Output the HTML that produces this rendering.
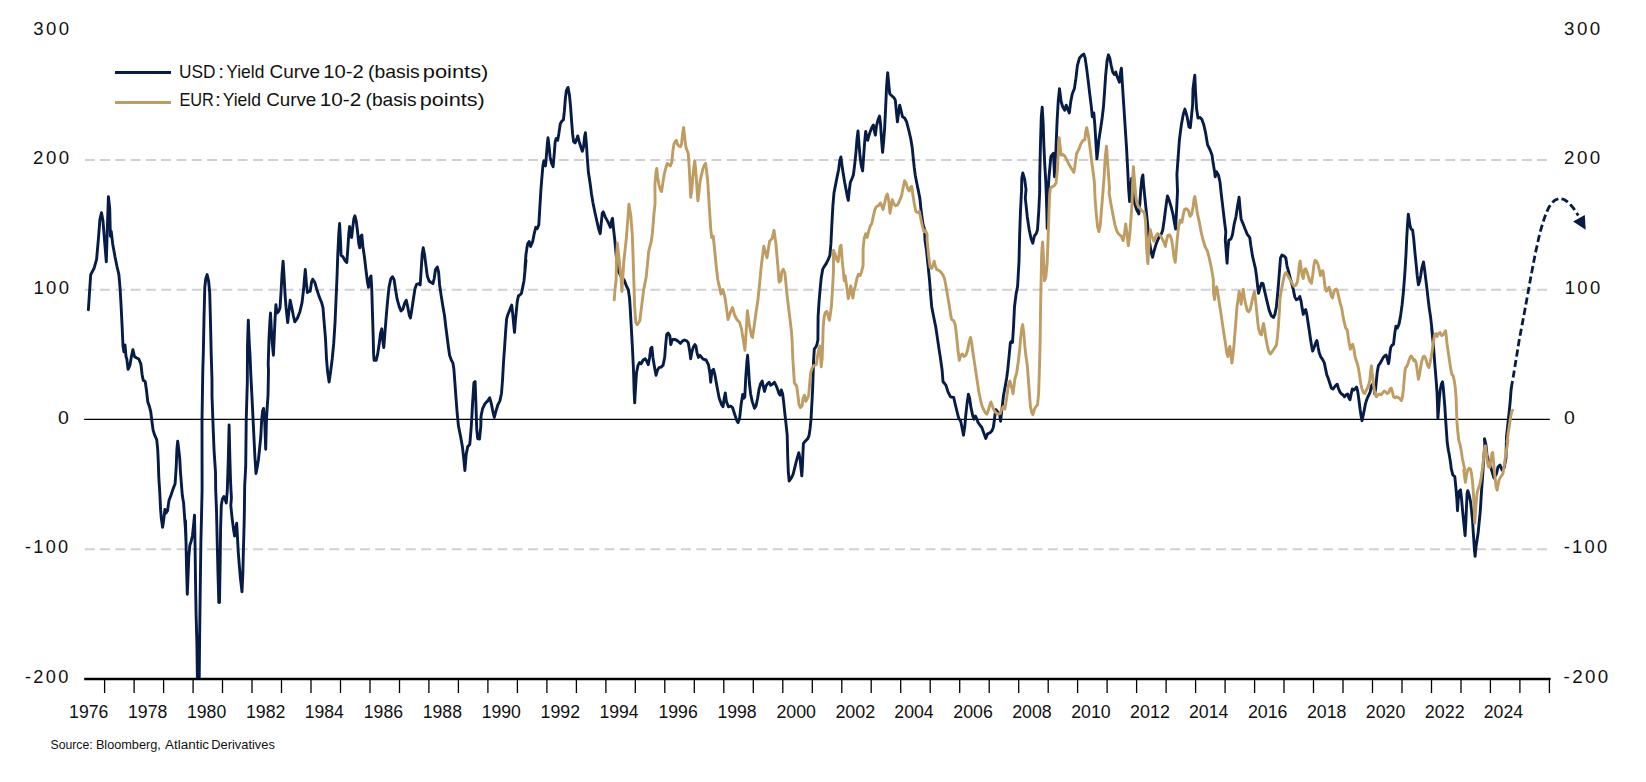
<!DOCTYPE html>
<html><head><meta charset="utf-8"><title>Yield Curve 10-2</title>
<style>
html,body{margin:0;padding:0;background:#fff;}
body{width:1646px;height:782px;overflow:hidden;font-family:"Liberation Sans",sans-serif;}
svg{display:block}
text{font-family:"Liberation Sans",sans-serif;fill:#111;}
</style></head><body>
<svg width="1646" height="782" viewBox="0 0 1646 782">
<rect width="1646" height="782" fill="#fff"/>
<g stroke="#d0d0d0" stroke-width="2.1" stroke-dasharray="9.9 5.387" fill="none"><line x1="84.8" y1="160.0" x2="1547.2" y2="160.0"/><line x1="84.8" y1="289.7" x2="1547.2" y2="289.7"/><line x1="84.8" y1="549.2" x2="1547.2" y2="549.2"/></g>
<line x1="84.2" y1="419.45" x2="1549.8" y2="419.45" stroke="#000" stroke-width="1.25"/>
<clipPath id="c"><rect x="80" y="20" width="1475" height="659.5"/></clipPath>
<g clip-path="url(#c)" fill="none" stroke-linejoin="round" stroke-linecap="round">
<path d="M88.4 309.7 L89.5 292.5 L90.7 274.6 L94.1 268.2 L96.6 259.3 L98.4 238.8 L99.9 219.6 L101.5 212.7 L103.0 220.9 L104.6 241.4 L106.3 261.8 L107.4 226.0 L108.4 196.6 L109.7 208.1 L110.4 236.3 L111.2 231.2 L112.7 243.9 L115.0 256.7 L117.1 267.0 L118.9 274.6 L120.2 290.0 L121.2 307.9 L122.2 328.3 L123.0 346.2 L124.0 351.9 L125.0 345.0 L126.0 356.5 L126.8 359.0 L128.1 369.3 L129.9 365.4 L131.4 356.5 L132.9 349.6 L134.5 356.5 L136.3 357.7 L138.8 359.0 L140.9 364.1 L142.1 374.4 L143.2 380.2 L145.2 381.5 L146.5 390.5 L147.8 402.0 L149.6 407.1 L150.8 412.2 L151.9 421.2 L153.1 430.1 L154.7 435.2 L156.7 439.6 L157.7 449.3 L158.3 462.1 L158.8 477.4 L159.8 492.8 L160.6 509.4 L161.3 518.3 L162.6 527.3 L163.9 518.3 L164.9 509.4 L165.9 513.2 L167.5 510.7 L169.0 500.4 L171.0 495.3 L173.1 488.9 L175.1 483.8 L176.2 467.2 L176.9 449.3 L177.7 441.1 L178.7 449.3 L179.7 458.2 L180.5 472.3 L181.3 482.5 L182.3 495.3 L183.6 503.0 L184.3 513.2 L185.4 528.6 L186.1 543.9 L185.5 520.7 L186.0 541.2 L186.5 566.7 L187.3 594.3 L188.1 574.4 L188.8 556.5 L189.9 545.0 L191.2 541.2 L192.4 536.0 L193.5 525.8 L194.5 515.1 L195.0 541.2 L195.5 579.5 L196.1 615.3 L196.9 643.5 L197.4 679.3 L197.8 694.6 L198.8 694.6 L199.2 679.3 L199.7 630.7 L200.2 592.3 L200.9 541.2 L201.4 520.7 L202.1 490.0 L202.0 421.2 L202.8 370.0 L203.3 353.9 L204.0 318.1 L204.8 287.4 L205.8 278.5 L207.1 274.6 L208.6 281.0 L209.7 292.5 L210.4 318.1 L211.2 353.9 L212.0 380.0 L212.0 395.6 L213.0 423.7 L214.0 449.3 L215.5 472.3 L215.7 490.0 L216.5 510.5 L217.2 541.2 L218.0 574.4 L218.8 602.5 L219.5 602.5 L220.1 566.7 L220.6 528.4 L221.3 505.3 L222.4 499.0 L223.9 496.4 L225.4 500.2 L226.3 503.0 L227.3 490.2 L228.3 459.5 L229.1 425.0 L229.9 459.5 L230.6 482.5 L231.4 497.9 L230.8 505.3 L232.1 518.1 L233.4 528.4 L234.6 536.0 L235.7 528.4 L236.7 523.2 L237.4 536.0 L238.2 551.4 L239.2 564.2 L240.3 577.0 L241.3 585.9 L242.0 591.8 L242.8 574.4 L243.3 553.9 L243.8 536.0 L244.3 516.9 L244.7 485.1 L245.7 467.2 L246.2 421.2 L247.3 382.8 L247.5 346.2 L248.3 320.2 L249.3 343.7 L250.1 356.5 L250.8 374.4 L251.9 395.6 L252.9 416.0 L253.9 436.5 L254.9 457.0 L256.0 473.6 L257.2 467.2 L258.5 459.5 L259.8 446.7 L260.8 436.5 L261.6 421.2 L262.6 410.9 L263.6 408.4 L264.7 421.2 L265.7 449.3 L266.4 421.2 L267.2 407.1 L268.0 395.6 L268.5 370.0 L268.2 364.1 L269.0 338.6 L269.8 323.2 L270.5 313.0 L271.3 328.3 L272.3 343.7 L273.4 355.2 L274.4 333.5 L275.1 318.1 L275.9 304.8 L276.9 313.0 L278.5 311.7 L280.0 307.9 L281.0 292.5 L282.0 274.6 L283.1 261.3 L284.1 277.2 L285.1 295.1 L286.1 307.9 L287.7 322.5 L289.0 310.4 L290.2 300.2 L291.8 307.9 L293.3 315.5 L294.8 321.9 L297.4 318.1 L299.9 311.7 L302.0 302.8 L303.5 290.0 L304.6 277.2 L305.3 269.5 L306.3 282.3 L307.4 292.5 L308.9 291.3 L310.2 291.3 L311.5 282.3 L312.7 279.2 L314.8 282.3 L316.6 288.7 L319.1 296.4 L321.7 302.8 L323.0 307.9 L324.2 323.2 L325.5 338.6 L326.5 359.0 L327.6 371.8 L329.1 382.0 L330.6 371.8 L332.2 359.0 L333.7 343.7 L335.0 323.2 L336.0 300.2 L337.0 277.2 L337.8 254.2 L338.8 233.7 L339.6 223.5 L340.4 238.8 L341.1 255.4 L342.9 256.7 L345.0 260.6 L346.8 262.4 L347.8 249.1 L348.8 233.7 L349.6 226.5 L350.6 235.0 L351.6 237.5 L352.6 228.6 L353.9 218.4 L354.9 215.8 L356.2 220.9 L357.5 231.2 L358.8 243.9 L359.8 247.8 L360.8 236.3 L361.8 235.0 L362.9 246.5 L364.4 256.7 L365.9 269.5 L367.5 282.3 L368.5 287.4 L369.8 278.5 L371.0 275.9 L371.8 290.0 L372.3 307.9 L373.1 333.5 L373.6 353.9 L374.1 360.3 L376.2 360.3 L377.7 353.9 L379.2 343.7 L380.5 333.5 L381.8 328.8 L382.8 341.1 L383.8 347.5 L384.9 333.5 L386.1 318.1 L387.4 302.8 L389.0 287.4 L390.7 279.2 L392.5 276.7 L394.1 279.7 L395.6 290.0 L397.1 298.9 L399.2 306.6 L401.0 310.9 L402.8 309.2 L404.8 302.8 L406.3 300.2 L407.9 307.9 L409.4 315.5 L410.4 318.1 L411.7 310.4 L413.2 300.2 L415.0 288.7 L416.6 284.3 L418.6 283.6 L420.2 284.9 L421.2 269.5 L422.2 254.2 L423.2 247.8 L424.5 254.2 L425.8 264.4 L427.3 275.9 L429.1 281.0 L430.9 282.3 L432.9 283.6 L434.2 278.5 L435.5 269.5 L437.3 267.0 L438.6 272.1 L439.6 284.9 L441.1 295.1 L442.7 305.3 L444.5 315.5 L445.7 325.8 L447.0 336.0 L448.3 346.2 L449.6 355.2 L451.4 360.3 L452.9 362.9 L453.9 369.3 L454.9 382.8 L456.0 398.1 L457.2 413.5 L458.5 426.3 L460.6 436.5 L462.4 446.7 L463.6 457.0 L464.9 470.5 L466.2 454.4 L467.7 446.7 L469.8 444.2 L471.3 426.3 L472.6 403.2 L473.9 382.8 L475.1 381.5 L475.9 403.2 L476.7 428.8 L477.7 438.5 L479.5 439.1 L480.8 426.3 L481.0 416.2 L482.6 408.6 L485.1 403.5 L487.7 400.9 L489.7 397.8 L491.3 403.5 L492.8 411.1 L494.3 417.5 L495.9 411.1 L497.9 404.7 L499.9 400.9 L501.5 393.2 L502.5 380.4 L503.5 362.5 L504.6 347.2 L505.6 331.8 L506.6 319.1 L507.6 315.2 L509.2 311.4 L510.7 307.5 L511.7 305.0 L512.7 313.9 L513.8 325.4 L514.5 332.4 L515.3 321.6 L516.3 311.4 L517.3 301.2 L518.4 296.0 L519.9 294.8 L521.4 293.5 L522.5 288.4 L524.0 280.7 L525.0 270.5 L526.0 260.2 L524.8 270.0 L526.0 254.1 L527.6 243.9 L529.1 241.4 L530.6 246.5 L532.7 241.4 L534.2 233.7 L535.8 227.3 L537.3 228.6 L538.8 224.7 L539.8 208.1 L540.9 190.2 L541.9 177.4 L542.9 165.9 L543.9 160.8 L545.5 165.9 L546.5 154.4 L547.3 144.2 L548.0 137.8 L549.1 146.7 L550.1 157.0 L551.6 163.4 L553.1 166.7 L554.2 154.4 L555.2 141.6 L556.2 138.5 L557.7 140.3 L558.8 133.9 L560.3 123.7 L561.8 121.2 L563.4 119.9 L564.4 110.9 L565.4 98.1 L566.4 90.5 L568.0 87.4 L569.5 95.6 L570.5 105.8 L571.6 121.2 L572.6 133.9 L573.6 141.6 L575.1 142.9 L576.7 139.1 L577.7 136.0 L579.2 141.6 L580.8 146.7 L582.3 151.3 L583.6 146.7 L584.6 136.5 L585.4 132.7 L586.4 144.2 L587.4 159.5 L588.4 172.3 L590.0 182.5 L591.5 194.0 L593.0 203.0 L595.1 213.2 L597.1 222.2 L598.9 229.8 L600.2 233.7 L601.2 223.5 L602.3 213.2 L603.3 211.9 L605.3 217.1 L607.4 220.9 L609.2 224.7 L610.4 227.3 L611.5 220.9 L612.5 218.3 L613.5 228.6 L614.8 240.1 L616.1 254.1 L617.6 269.9 L620.7 275.6 L624.5 280.7 L626.3 285.8 L628.3 289.6 L629.6 298.6 L630.4 311.4 L631.4 329.3 L632.4 347.2 L633.5 370.2 L634.2 393.2 L634.7 402.9 L635.5 388.1 L636.5 372.8 L638.1 365.1 L639.6 362.5 L641.1 363.8 L643.2 360.0 L645.2 358.7 L646.8 361.3 L648.3 364.6 L649.6 357.4 L650.8 348.5 L651.9 347.2 L652.9 357.4 L654.4 366.4 L656.0 375.3 L657.5 370.2 L659.0 367.6 L661.1 367.1 L663.1 365.1 L664.7 357.4 L665.7 344.6 L666.7 334.4 L668.2 333.1 L669.8 335.7 L670.8 344.6 L672.3 339.5 L674.4 339.5 L676.4 340.0 L678.5 341.6 L680.5 343.4 L682.6 340.8 L684.6 340.0 L686.6 340.8 L688.2 342.6 L689.7 351.0 L690.7 358.7 L691.8 352.3 L693.3 347.2 L694.8 344.6 L695.9 345.9 L696.9 352.3 L698.4 357.4 L700.0 355.3 L703.1 359.2 L706.1 360.0 L708.4 364.6 L710.0 373.8 L710.7 382.2 L712.0 370.7 L713.5 369.2 L715.0 375.3 L716.9 386.0 L719.2 398.3 L721.5 404.5 L723.0 406.8 L724.2 398.3 L725.3 392.9 L726.4 401.4 L728.4 406.8 L730.7 406.0 L732.5 407.5 L734.5 413.7 L736.8 420.6 L738.1 422.6 L739.6 418.3 L741.1 404.5 L742.7 394.5 L743.7 398.3 L744.8 396.8 L745.7 378.4 L746.8 363.0 L747.6 355.3 L748.5 367.6 L749.4 383.0 L750.6 393.7 L752.2 401.4 L754.5 408.3 L756.0 406.0 L757.6 398.3 L759.1 389.1 L760.6 383.7 L762.2 381.1 L763.2 386.0 L764.5 391.4 L766.0 386.0 L767.5 383.7 L769.1 382.2 L770.6 385.3 L772.1 384.5 L774.4 382.2 L776.0 385.3 L777.5 389.1 L779.0 393.7 L780.1 395.2 L781.3 389.9 L782.6 393.7 L783.6 401.4 L784.7 412.1 L785.9 422.9 L787.2 435.2 L787.7 456.5 L788.3 471.8 L789.2 481.0 L791.2 478.2 L793.1 474.4 L795.0 466.7 L796.9 459.1 L798.8 452.7 L800.1 459.1 L801.1 469.3 L801.8 475.9 L802.4 466.7 L802.9 453.9 L803.4 443.7 L805.2 441.2 L807.8 438.6 L809.1 435.4 L810.1 428.4 L811.0 419.4 L811.9 402.8 L812.6 390.0 L813.0 378.4 L813.6 360.0 L814.3 349.2 L815.9 346.9 L816.9 344.6 L817.9 340.0 L818.1 316.5 L819.1 301.2 L820.2 288.4 L821.2 278.1 L822.7 269.2 L824.2 266.6 L826.5 263.1 L828.3 259.3 L829.9 255.4 L830.9 243.9 L831.9 223.5 L832.9 205.5 L834.0 192.8 L835.5 185.1 L837.0 177.4 L838.6 169.7 L839.8 160.8 L840.9 157.0 L841.9 164.6 L843.2 173.6 L844.7 182.5 L846.2 190.2 L847.3 196.6 L848.3 200.4 L849.3 190.2 L850.3 182.5 L851.9 178.7 L853.4 174.9 L854.7 164.6 L856.0 151.8 L857.0 139.1 L858.0 130.9 L859.0 144.2 L860.1 157.0 L861.1 164.6 L862.6 171.0 L863.6 157.0 L864.7 141.6 L865.7 131.4 L866.7 136.5 L867.7 140.3 L868.7 136.5 L870.3 131.4 L871.8 127.5 L873.4 125.0 L874.4 131.4 L875.4 135.2 L876.4 126.3 L878.0 119.9 L879.5 116.0 L880.5 123.7 L881.5 139.1 L882.6 152.4 L883.6 141.6 L884.6 128.8 L885.6 108.4 L886.6 86.0 L887.7 72.7 L888.7 83.5 L889.7 93.7 L891.8 95.8 L893.8 97.5 L895.3 100.1 L896.4 111.6 L897.4 121.8 L898.4 114.2 L899.7 105.2 L901.0 110.3 L902.5 116.7 L904.6 118.0 L906.6 121.8 L908.6 129.5 L910.7 138.5 L912.2 147.4 L913.2 157.6 L914.3 167.9 L915.3 175.5 L916.8 183.2 L918.4 190.9 L919.9 198.6 L920.9 208.8 L921.9 216.5 L923.0 224.1 L924.5 229.3 L925.0 240.2 L926.5 250.5 L928.1 265.8 L929.6 281.2 L930.6 293.9 L931.7 306.7 L933.7 317.0 L935.8 327.2 L937.3 337.4 L938.8 347.6 L940.4 357.9 L942.1 370.0 L943.0 381.5 L946.0 385.3 L947.9 391.7 L950.5 396.9 L953.7 397.5 L955.6 405.8 L957.5 413.5 L958.8 418.6 L960.7 421.2 L962.0 427.5 L963.5 435.2 L964.8 426.3 L965.8 414.8 L967.1 403.2 L968.4 394.3 L969.6 398.1 L970.9 407.1 L972.8 416.0 L974.1 419.2 L975.4 416.0 L976.7 418.6 L978.0 422.4 L979.9 425.0 L981.8 427.5 L983.7 432.7 L985.8 438.4 L987.5 433.9 L990.1 432.7 L992.0 430.7 L993.3 427.5 L994.2 421.2 L995.0 414.8 L995.9 409.6 L997.8 412.2 L999.7 414.8 L1000.6 421.2 L1001.4 413.5 L1002.3 405.8 L1003.5 395.6 L1005.4 385.3 L1006.7 377.7 L1007.7 370.0 L1009.4 352.8 L1010.4 342.5 L1011.5 341.3 L1012.5 342.5 L1013.5 327.2 L1014.5 306.7 L1016.1 293.9 L1017.6 286.3 L1019.0 261.7 L1019.6 236.2 L1020.5 210.6 L1021.5 191.4 L1021.8 178.1 L1022.8 173.0 L1024.7 179.4 L1026.0 189.6 L1025.3 197.8 L1027.3 217.0 L1029.2 229.8 L1031.1 238.7 L1032.8 243.2 L1034.3 236.2 L1036.2 233.6 L1037.5 229.8 L1038.8 210.6 L1039.7 191.4 L1039.7 178.1 L1040.4 146.2 L1041.3 116.7 L1042.2 107.1 L1043.2 124.4 L1043.9 146.2 L1044.8 165.3 L1045.8 182.0 L1046.3 195.2 L1046.8 210.6 L1047.2 228.5 L1047.6 210.6 L1048.1 191.4 L1049.0 176.8 L1050.9 156.4 L1053.5 153.2 L1054.5 176.8 L1055.8 152.5 L1057.1 120.6 L1058.3 100.1 L1059.5 88.6 L1061.1 101.4 L1062.6 106.5 L1064.7 110.3 L1066.2 105.2 L1067.7 109.1 L1069.3 112.9 L1070.8 101.4 L1072.3 93.7 L1074.4 88.6 L1075.9 78.4 L1077.4 65.6 L1079.5 57.9 L1082.0 55.3 L1083.8 54.1 L1085.1 57.9 L1086.6 68.1 L1088.2 80.9 L1089.7 93.7 L1091.3 106.5 L1092.3 116.7 L1093.8 112.9 L1094.8 124.4 L1095.9 142.3 L1096.9 158.9 L1097.9 150.0 L1098.9 139.7 L1100.5 129.5 L1102.0 119.3 L1103.5 106.5 L1104.6 91.2 L1105.6 75.8 L1107.1 60.5 L1108.4 54.8 L1109.7 57.9 L1111.2 65.6 L1112.7 72.0 L1114.3 74.5 L1115.8 72.0 L1116.8 75.8 L1118.4 79.6 L1119.4 82.2 L1120.4 73.2 L1121.4 68.1 L1122.5 86.0 L1123.5 101.4 L1124.5 116.7 L1125.5 132.1 L1126.5 147.4 L1127.6 167.9 L1128.6 188.3 L1129.6 201.6 L1130.6 188.3 L1131.7 178.1 L1133.2 193.5 L1134.7 203.7 L1136.8 210.1 L1138.8 213.9 L1139.8 203.7 L1140.9 188.3 L1141.9 178.1 L1142.9 175.0 L1143.6 185.0 L1144.9 197.8 L1146.2 210.6 L1147.5 223.4 L1148.7 236.2 L1150.0 245.1 L1151.3 252.8 L1152.6 257.3 L1153.9 251.5 L1155.8 245.1 L1157.7 240.0 L1159.6 236.2 L1161.5 233.6 L1162.8 229.8 L1164.1 220.8 L1165.4 210.6 L1166.6 201.6 L1167.5 195.9 L1169.2 200.3 L1171.1 206.7 L1173.0 214.4 L1174.3 222.1 L1175.6 229.1 L1176.2 217.0 L1176.9 204.2 L1177.5 191.4 L1176.9 174.3 L1178.2 156.4 L1179.4 139.8 L1181.4 124.4 L1183.3 114.2 L1184.9 109.1 L1187.1 116.7 L1189.0 127.0 L1190.3 127.6 L1191.3 118.0 L1192.6 105.2 L1193.0 88.6 L1194.0 80.9 L1194.8 75.3 L1195.5 91.2 L1196.6 109.1 L1198.0 118.0 L1199.9 117.4 L1201.8 119.3 L1203.7 124.4 L1205.7 133.4 L1207.6 144.9 L1210.1 150.0 L1212.0 155.1 L1213.3 164.1 L1214.6 171.7 L1215.2 176.8 L1216.5 171.7 L1218.4 174.9 L1220.0 182.0 L1221.2 193.5 L1222.7 206.2 L1224.2 219.0 L1225.8 231.8 L1225.3 240.2 L1226.3 253.0 L1227.1 263.2 L1227.8 250.5 L1228.8 240.2 L1230.9 239.0 L1232.4 235.1 L1234.2 224.1 L1236.0 216.5 L1237.5 206.2 L1239.1 197.3 L1240.1 208.8 L1241.1 219.0 L1243.2 224.1 L1245.2 229.3 L1247.3 234.4 L1249.3 236.9 L1249.8 237.7 L1250.8 245.3 L1252.4 255.6 L1253.9 262.0 L1255.4 268.4 L1256.5 276.0 L1257.5 285.0 L1258.5 293.4 L1260.1 287.5 L1261.6 283.2 L1263.1 283.7 L1264.7 291.4 L1266.2 297.8 L1267.7 304.2 L1269.3 310.6 L1271.3 315.7 L1273.4 317.5 L1274.9 314.4 L1276.4 306.7 L1277.4 296.5 L1278.5 283.7 L1279.5 270.9 L1280.5 258.1 L1281.9 255.1 L1284.3 256.1 L1285.8 258.0 L1287.0 265.8 L1288.6 271.6 L1290.1 277.5 L1291.7 283.3 L1293.2 289.1 L1294.8 296.9 L1296.3 299.8 L1298.3 298.9 L1299.8 296.5 L1301.0 300.8 L1302.2 308.6 L1303.3 314.4 L1304.5 310.5 L1305.7 309.6 L1306.8 314.4 L1308.0 322.2 L1309.2 330.0 L1310.3 337.7 L1311.5 345.3 L1312.7 351.1 L1314.2 347.2 L1315.8 342.4 L1316.9 340.4 L1318.1 347.2 L1319.3 353.0 L1320.8 356.9 L1322.8 359.9 L1324.3 362.8 L1325.5 368.6 L1326.7 374.4 L1328.2 378.3 L1329.8 383.2 L1331.3 388.0 L1332.9 389.0 L1334.4 387.1 L1336.0 385.1 L1337.2 384.2 L1338.3 388.0 L1339.9 391.9 L1341.4 393.9 L1343.0 394.8 L1344.5 396.8 L1346.1 394.8 L1347.7 393.9 L1348.8 397.8 L1350.0 399.7 L1351.2 393.9 L1352.3 389.0 L1353.9 390.0 L1355.4 388.4 L1356.6 387.1 L1357.8 391.9 L1358.9 399.7 L1360.1 409.4 L1361.3 417.2 L1362.0 420.7 L1363.2 415.3 L1364.4 409.4 L1365.5 403.6 L1366.7 399.7 L1367.9 396.8 L1369.0 394.8 L1370.2 391.9 L1371.4 386.1 L1372.5 384.2 L1373.7 387.1 L1374.7 393.9 L1375.6 389.0 L1376.4 380.3 L1377.2 372.5 L1378.4 365.7 L1379.9 363.7 L1381.5 360.8 L1383.0 357.9 L1384.6 356.0 L1386.1 355.0 L1387.3 358.9 L1388.5 363.7 L1389.3 358.9 L1390.0 352.1 L1390.8 347.2 L1392.0 345.3 L1393.5 344.3 L1394.7 333.9 L1395.9 326.1 L1397.4 328.0 L1399.0 324.1 L1400.5 316.4 L1402.1 304.7 L1403.3 293.0 L1404.4 279.4 L1405.2 267.8 L1406.0 254.2 L1406.7 238.6 L1407.5 225.0 L1408.3 214.3 L1409.1 219.2 L1409.9 225.0 L1411.0 228.9 L1412.6 229.9 L1413.7 238.6 L1414.9 252.2 L1416.1 263.9 L1417.2 275.5 L1418.4 284.9 L1419.6 281.4 L1420.7 275.5 L1421.9 267.8 L1423.5 261.9 L1424.6 269.7 L1425.8 279.4 L1427.0 289.1 L1428.1 298.9 L1429.3 308.6 L1430.5 316.4 L1431.6 326.1 L1432.8 337.7 L1431.6 327.8 L1432.4 335.6 L1433.2 343.3 L1434.0 353.0 L1434.7 362.8 L1435.5 372.5 L1436.3 382.2 L1437.1 393.9 L1437.5 405.5 L1437.9 418.2 L1438.6 409.4 L1439.4 397.8 L1440.2 390.0 L1441.4 384.2 L1442.5 381.8 L1443.3 388.0 L1444.1 397.8 L1444.9 407.5 L1445.6 419.1 L1446.4 430.8 L1447.2 442.5 L1448.4 450.2 L1449.5 456.1 L1450.7 463.9 L1451.2 468.3 L1452.8 474.9 L1454.8 476.6 L1455.8 486.6 L1456.8 498.2 L1457.5 510.7 L1458.2 499.9 L1459.1 491.5 L1460.5 489.9 L1461.5 498.2 L1462.5 509.8 L1463.5 519.8 L1464.5 529.8 L1465.1 535.6 L1465.8 523.1 L1466.5 506.5 L1467.1 493.2 L1467.8 490.7 L1469.1 494.9 L1470.5 501.5 L1471.5 509.8 L1472.5 519.8 L1473.1 529.8 L1473.8 539.8 L1474.4 549.7 L1475.1 556.4 L1476.1 546.4 L1477.1 539.8 L1478.1 533.1 L1479.1 523.1 L1480.1 513.2 L1480.8 503.2 L1481.4 493.2 L1482.1 483.2 L1482.8 473.3 L1483.4 463.3 L1484.1 453.3 L1484.8 445.0 L1484.5 438.6 L1485.8 444.0 L1487.0 455.0 L1489.0 463.0 L1491.0 468.0 L1494.0 478.0 L1496.4 474.0 L1498.0 467.0 L1500.0 465.0 L1502.0 470.0 L1504.0 468.0 L1506.0 458.0 L1506.5 436.6 L1507.8 425.0 L1509.0 413.3 L1510.2 401.6 L1510.9 391.9 L1511.3 388.0" stroke="#061c46" stroke-width="2.9"/>
<path d="M614.2 299.8 L615.2 287.7 L616.1 280.0 L616.5 256.5 L617.4 243.1 L619.3 261.6 L621.2 279.5 L621.9 291.5 L623.8 261.6 L626.3 238.6 L627.6 222.0 L628.9 204.1 L630.8 215.6 L632.3 234.8 L633.4 266.7 L634.0 286.4 L634.6 305.6 L635.7 322.2 L637.2 324.8 L639.8 320.9 L641.7 305.6 L643.6 290.2 L646.2 277.0 L648.7 251.4 L651.3 241.2 L652.5 232.2 L653.8 215.6 L655.1 202.8 L654.9 185.1 L656.0 172.3 L656.7 168.5 L657.7 177.4 L659.0 185.1 L660.6 190.2 L661.6 191.5 L662.9 182.5 L664.1 174.9 L665.7 168.5 L667.2 163.4 L668.7 164.6 L670.3 165.9 L671.8 162.1 L672.8 151.8 L673.9 144.2 L675.1 141.6 L676.4 140.3 L677.4 144.2 L679.0 146.2 L680.5 146.7 L681.5 144.2 L682.6 133.9 L683.6 127.5 L684.6 136.5 L685.6 145.4 L686.6 149.3 L688.2 153.1 L689.2 167.2 L690.0 182.5 L690.7 197.4 L691.8 190.2 L692.8 177.4 L693.8 167.2 L694.8 160.8 L695.9 172.3 L696.9 187.6 L697.9 200.9 L698.9 192.8 L699.9 182.5 L701.5 174.9 L703.0 168.5 L704.6 164.6 L705.6 163.4 L706.6 171.0 L707.6 180.0 L708.6 195.3 L709.7 213.2 L710.7 228.6 L711.7 237.5 L713.2 236.2 L714.3 246.5 L715.3 256.7 L716.3 266.9 L717.8 280.0 L719.7 287.7 L721.0 294.1 L722.9 289.6 L724.8 296.6 L726.7 309.4 L728.0 319.6 L730.5 312.0 L732.5 307.5 L734.4 314.5 L736.9 319.6 L739.5 322.2 L741.4 328.6 L743.3 340.1 L744.9 350.3 L746.2 331.2 L747.4 310.7 L749.1 323.5 L751.6 336.3 L752.5 337.5 L754.2 326.0 L756.1 312.0 L758.0 299.2 L760.0 280.0 L761.2 266.7 L763.8 246.3 L767.0 257.8 L769.6 241.2 L772.1 238.6 L774.0 230.3 L775.9 243.7 L777.9 266.7 L779.1 282.1 L780.8 280.7 L781.8 271.7 L783.3 269.2 L784.9 273.0 L785.9 283.2 L786.9 293.5 L788.4 306.3 L790.0 319.1 L791.5 331.8 L792.1 340.0 L792.8 358.4 L793.6 370.7 L794.4 383.0 L796.7 386.0 L797.9 395.2 L799.0 404.5 L800.5 407.5 L802.1 406.0 L803.1 398.3 L804.4 395.2 L805.9 401.4 L807.4 398.3 L808.7 395.2 L809.7 383.0 L810.8 372.2 L812.3 367.6 L814.3 365.3 L816.3 364.6 L817.4 356.9 L818.9 349.2 L820.0 346.1 L821.2 366.9 L822.2 358.4 L822.8 340.0 L823.2 326.7 L824.2 316.5 L825.3 312.7 L826.8 311.4 L828.3 316.5 L829.4 320.3 L830.4 313.9 L831.4 306.3 L832.4 290.9 L833.5 270.5 L833.5 250.3 L835.0 254.1 L836.5 259.3 L838.1 261.8 L839.1 254.1 L840.1 246.5 L841.1 245.2 L842.1 259.3 L843.2 269.9 L844.2 280.7 L845.2 275.6 L846.2 283.2 L847.3 290.9 L848.3 298.6 L849.8 290.9 L850.8 285.8 L851.9 293.5 L852.9 298.1 L853.9 290.9 L855.4 285.8 L857.0 278.1 L858.5 274.3 L860.1 275.6 L861.6 271.7 L863.1 265.3 L863.1 249.0 L864.1 238.8 L865.7 233.7 L867.2 237.5 L868.7 231.1 L870.3 226.0 L871.8 223.5 L873.4 215.8 L874.9 209.4 L876.4 206.8 L878.5 205.5 L880.5 203.0 L882.0 206.8 L883.1 209.4 L884.6 203.0 L886.1 196.6 L887.4 194.0 L888.7 200.4 L890.0 213.2 L891.3 206.2 L892.3 199.8 L893.8 203.7 L895.3 205.7 L897.4 205.0 L899.4 201.1 L901.5 196.0 L903.0 188.3 L904.6 180.7 L906.1 183.2 L907.6 188.3 L909.2 190.9 L910.7 187.1 L911.7 186.3 L912.7 193.5 L914.3 203.7 L915.8 211.4 L917.9 212.6 L919.4 211.4 L920.9 219.0 L922.5 226.7 L924.0 231.8 L925.5 230.5 L927.1 234.4 L927.1 240.2 L928.6 255.6 L930.1 267.1 L931.7 268.4 L933.2 264.5 L934.2 261.2 L935.2 265.8 L936.8 269.6 L938.8 270.4 L940.9 272.2 L942.9 274.8 L944.5 278.6 L946.0 286.3 L947.5 295.2 L949.1 304.2 L950.6 314.4 L951.6 319.5 L953.7 320.8 L955.2 324.6 L956.2 332.3 L957.2 342.5 L958.3 352.8 L959.3 360.4 L960.8 355.3 L962.4 354.0 L963.9 356.6 L965.9 355.3 L967.5 350.2 L969.0 342.5 L970.5 337.4 L971.6 342.5 L972.6 350.2 L974.1 360.4 L975.7 370.7 L977.2 380.9 L978.7 391.1 L980.3 398.8 L981.8 405.2 L983.3 409.0 L985.4 412.9 L986.9 414.1 L988.4 410.3 L990.0 403.9 L991.0 401.9 L992.5 406.5 L994.1 410.3 L996.1 412.9 L998.2 414.1 L1000.2 413.6 L1001.7 409.0 L1003.3 406.5 L1004.8 409.0 L1005.8 403.9 L1006.9 396.2 L1007.9 388.6 L1008.9 383.5 L1009.9 380.9 L1010.9 384.7 L1012.0 388.6 L1013.0 393.7 L1014.0 386.0 L1015.0 378.3 L1016.6 373.2 L1018.1 363.0 L1019.6 350.2 L1020.7 337.4 L1021.7 328.5 L1022.7 324.6 L1023.7 332.3 L1024.8 345.1 L1025.8 355.3 L1027.3 365.5 L1028.3 378.3 L1029.4 393.7 L1030.4 406.5 L1031.9 412.9 L1032.9 414.7 L1034.5 409.0 L1036.0 406.5 L1037.5 405.2 L1038.6 393.7 L1039.3 373.2 L1040.1 342.5 L1040.6 306.7 L1041.1 281.2 L1041.6 255.6 L1042.0 248.9 L1042.6 241.9 L1043.2 251.5 L1043.9 266.8 L1044.5 280.9 L1045.8 277.1 L1047.1 264.3 L1047.7 248.9 L1048.4 229.8 L1049.0 210.6 L1049.6 195.2 L1050.3 188.8 L1051.6 187.1 L1054.1 185.8 L1056.0 183.2 L1057.3 171.7 L1058.3 152.5 L1059.2 137.8 L1060.1 146.2 L1061.2 155.1 L1063.1 154.5 L1065.0 156.4 L1066.9 160.2 L1068.8 164.1 L1071.4 168.5 L1073.9 172.4 L1075.2 164.1 L1076.5 153.8 L1079.1 148.7 L1081.0 143.6 L1082.9 140.4 L1084.8 139.8 L1085.7 132.1 L1086.7 127.6 L1088.0 133.4 L1089.3 142.3 L1090.6 152.5 L1091.8 162.8 L1093.1 171.7 L1094.4 182.0 L1095.0 197.8 L1096.3 214.4 L1097.6 227.2 L1098.9 231.7 L1100.2 225.9 L1101.4 210.6 L1102.7 195.2 L1104.0 178.1 L1105.3 156.4 L1106.5 146.2 L1107.4 158.9 L1108.5 174.3 L1109.5 188.4 L1109.1 192.7 L1111.0 204.2 L1112.9 214.4 L1114.9 224.6 L1116.8 231.0 L1118.7 234.2 L1121.3 236.2 L1123.2 240.6 L1124.5 233.6 L1125.7 224.0 L1127.0 233.6 L1128.3 245.7 L1129.6 236.2 L1130.8 220.8 L1132.1 201.6 L1132.8 178.1 L1133.4 166.6 L1134.3 178.1 L1136.0 197.8 L1137.2 204.2 L1139.2 207.4 L1141.7 210.6 L1144.3 212.5 L1145.5 220.8 L1146.2 236.2 L1146.8 251.5 L1147.9 263.6 L1148.7 248.9 L1149.6 236.2 L1150.4 229.8 L1151.9 236.2 L1153.9 241.3 L1155.8 236.2 L1157.7 233.6 L1159.6 234.9 L1161.5 237.4 L1163.5 241.3 L1165.4 246.4 L1166.6 240.0 L1167.9 235.5 L1169.8 234.9 L1171.4 238.7 L1172.7 246.4 L1173.9 256.6 L1175.2 262.4 L1176.2 251.5 L1177.3 238.7 L1178.5 227.2 L1180.1 220.2 L1182.0 222.1 L1183.3 214.4 L1184.6 209.3 L1186.5 208.7 L1188.4 210.6 L1190.1 216.3 L1191.6 214.4 L1193.1 206.7 L1194.1 198.4 L1194.8 196.5 L1196.1 204.2 L1197.3 213.1 L1199.3 222.1 L1201.2 232.3 L1203.1 240.0 L1205.0 246.4 L1207.6 251.5 L1209.5 259.2 L1211.4 268.1 L1213.3 279.6 L1213.5 292.7 L1214.5 299.6 L1215.5 291.4 L1216.6 286.8 L1217.6 291.4 L1219.1 301.6 L1220.7 311.8 L1222.2 322.1 L1223.7 332.3 L1225.3 342.5 L1226.8 352.8 L1227.8 356.6 L1228.8 350.2 L1229.9 346.4 L1230.9 355.3 L1231.9 363.0 L1232.9 355.3 L1234.0 345.1 L1235.0 332.3 L1236.0 319.5 L1237.0 306.7 L1238.1 299.1 L1239.1 291.4 L1240.1 296.5 L1241.1 304.2 L1242.1 296.5 L1243.2 289.3 L1244.2 296.5 L1245.7 304.2 L1247.3 310.6 L1248.8 311.8 L1250.3 309.3 L1251.9 301.6 L1253.4 295.2 L1254.4 291.4 L1255.4 299.1 L1256.5 309.3 L1257.5 319.5 L1258.5 328.5 L1260.1 333.6 L1261.6 334.9 L1262.6 327.2 L1263.6 323.4 L1264.7 329.7 L1265.7 337.4 L1267.2 345.1 L1268.7 351.5 L1270.3 354.0 L1272.3 351.5 L1274.4 348.2 L1276.4 345.1 L1277.4 337.4 L1278.5 324.6 L1279.5 309.3 L1280.0 298.9 L1281.2 291.1 L1282.7 283.3 L1284.3 275.5 L1285.8 272.6 L1287.4 274.6 L1288.9 277.5 L1290.5 280.4 L1292.1 283.3 L1294.0 286.2 L1295.9 285.3 L1297.5 281.4 L1298.7 271.6 L1299.4 263.9 L1300.2 261.0 L1301.0 267.8 L1302.2 275.5 L1303.3 278.5 L1304.5 269.7 L1305.7 268.7 L1306.8 271.6 L1308.4 276.5 L1309.9 281.4 L1311.5 283.3 L1312.7 275.5 L1313.8 265.8 L1315.0 260.4 L1316.5 261.0 L1318.1 264.8 L1319.3 269.7 L1320.4 275.5 L1321.6 271.6 L1322.8 270.7 L1323.9 277.5 L1325.1 287.2 L1326.3 291.1 L1327.4 290.1 L1329.0 287.2 L1330.2 291.1 L1331.3 295.9 L1332.5 297.9 L1333.7 293.0 L1334.8 290.1 L1336.4 289.1 L1337.5 291.1 L1338.7 296.9 L1340.3 303.7 L1341.8 308.6 L1343.0 316.4 L1344.2 322.2 L1345.7 328.0 L1347.3 330.0 L1348.0 335.6 L1349.2 343.3 L1350.4 349.2 L1351.5 345.3 L1352.7 344.3 L1353.9 349.2 L1355.0 356.0 L1356.2 360.8 L1357.4 363.7 L1358.5 368.6 L1359.7 376.4 L1360.9 384.2 L1362.0 389.0 L1363.6 392.9 L1364.8 393.5 L1365.9 391.0 L1367.5 388.0 L1368.6 385.1 L1369.8 380.3 L1370.6 372.5 L1371.4 365.7 L1372.1 372.5 L1372.9 378.3 L1373.7 386.1 L1374.5 391.0 L1375.3 394.8 L1376.4 396.8 L1378.0 394.8 L1379.5 393.9 L1381.1 394.8 L1382.6 392.9 L1384.2 391.0 L1385.8 391.9 L1387.3 393.5 L1388.9 392.3 L1390.0 389.0 L1391.2 388.0 L1392.4 391.9 L1393.5 396.8 L1395.1 397.8 L1396.6 396.8 L1398.2 397.4 L1399.8 398.7 L1401.3 400.7 L1402.5 396.8 L1403.3 390.0 L1404.0 382.2 L1404.8 372.5 L1405.6 367.6 L1406.7 366.7 L1407.9 363.7 L1409.1 359.9 L1410.2 356.9 L1411.4 356.0 L1412.6 357.9 L1413.7 360.8 L1414.9 359.9 L1416.1 362.8 L1417.2 370.5 L1418.4 379.3 L1419.6 374.4 L1420.7 366.7 L1421.9 360.8 L1423.1 356.9 L1424.2 356.0 L1425.4 357.9 L1426.6 361.8 L1427.7 365.7 L1428.9 367.6 L1430.1 362.8 L1431.2 356.9 L1432.4 349.2 L1433.6 340.4 L1434.7 334.6 L1435.9 333.6 L1437.1 336.5 L1438.6 333.6 L1440.2 332.6 L1441.7 335.6 L1443.3 334.6 L1444.9 331.7 L1445.6 330.7 L1446.4 337.5 L1447.2 345.3 L1448.4 353.0 L1449.5 360.8 L1450.7 368.6 L1451.9 374.4 L1453.0 375.4 L1454.2 380.3 L1455.3 388.0 L1456.1 397.8 L1456.5 409.4 L1456.9 421.1 L1457.7 430.8 L1458.8 440.5 L1460.0 444.4 L1461.2 450.2 L1462.3 458.0 L1463.5 463.9 L1464.7 469.7 L1463.8 469.9 L1464.8 478.2 L1465.5 482.4 L1466.5 474.9 L1467.8 469.9 L1469.1 468.3 L1470.5 469.1 L1471.5 473.3 L1472.5 481.6 L1473.4 493.2 L1474.1 506.5 L1474.8 523.1 L1475.4 513.2 L1476.1 503.2 L1477.1 493.2 L1478.4 488.2 L1479.8 484.9 L1480.8 479.9 L1481.8 473.3 L1482.8 464.9 L1483.8 456.6 L1484.8 446.7 L1485.4 445.8 L1486.4 453.3 L1487.4 461.6 L1488.4 466.6 L1489.7 467.4 L1490.7 461.6 L1491.7 454.1 L1492.7 452.5 L1493.4 460.0 L1494.1 468.3 L1495.1 478.2 L1496.1 486.6 L1497.1 490.2 L1498.1 484.9 L1499.1 479.9 L1500.4 477.4 L1501.7 475.7 L1503.0 473.3 L1504.0 466.6 L1505.0 460.0 L1506.0 453.3 L1507.0 446.7 L1508.0 440.0 L1507.1 442.5 L1508.2 432.8 L1509.4 425.0 L1510.6 417.2 L1511.7 411.4 L1512.5 410.4" stroke="#be9c62" stroke-width="2.9"/>
<line x1="198.3" y1="636" x2="198.3" y2="681" stroke="#061c46" stroke-width="2.2"/>
</g>
<path d="M1511.3 388 L1513.3 376.4 L1516.2 358.9 L1519.3 339.4 L1523 320 L1526.7 300 L1530.6 278.2 L1535.1 254.5 L1539.7 233.7 L1541.9 226 L1544 219.3 L1546.1 213.3 L1548.6 207.8 L1551.2 203.8 L1554.8 200.2 L1559.4 198.2 L1564 199.5 L1567.1 201.5 L1570.1 204.3 L1573.2 207.9 L1575.8 211.5 L1578.3 215.6" fill="none" stroke="#061c46" stroke-width="2.8" stroke-dasharray="7.2 3.4" stroke-linejoin="round"/>
<path d="M1585.7 229.7 L1573.1 221.5 L1584.8 215 Z" fill="#061c46"/>
<g stroke="#000" stroke-width="1.3"><line x1="84.2" y1="679" x2="1550.7" y2="679" stroke-width="2.5"/><line x1="104.6" y1="678.7" x2="104.6" y2="693"/><line x1="134.1" y1="678.7" x2="134.1" y2="693"/><line x1="163.6" y1="678.7" x2="163.6" y2="693"/><line x1="193.1" y1="678.7" x2="193.1" y2="693"/><line x1="222.5" y1="678.7" x2="222.5" y2="693"/><line x1="252.0" y1="678.7" x2="252.0" y2="693"/><line x1="281.5" y1="678.7" x2="281.5" y2="693"/><line x1="311.0" y1="678.7" x2="311.0" y2="693"/><line x1="340.5" y1="678.7" x2="340.5" y2="693"/><line x1="370.0" y1="678.7" x2="370.0" y2="693"/><line x1="399.5" y1="678.7" x2="399.5" y2="693"/><line x1="428.9" y1="678.7" x2="428.9" y2="693"/><line x1="458.4" y1="678.7" x2="458.4" y2="693"/><line x1="487.9" y1="678.7" x2="487.9" y2="693"/><line x1="517.4" y1="678.7" x2="517.4" y2="693"/><line x1="546.9" y1="678.7" x2="546.9" y2="693"/><line x1="576.4" y1="678.7" x2="576.4" y2="693"/><line x1="605.9" y1="678.7" x2="605.9" y2="693"/><line x1="635.3" y1="678.7" x2="635.3" y2="693"/><line x1="664.8" y1="678.7" x2="664.8" y2="693"/><line x1="694.3" y1="678.7" x2="694.3" y2="693"/><line x1="723.8" y1="678.7" x2="723.8" y2="693"/><line x1="753.3" y1="678.7" x2="753.3" y2="693"/><line x1="782.8" y1="678.7" x2="782.8" y2="693"/><line x1="812.3" y1="678.7" x2="812.3" y2="693"/><line x1="841.8" y1="678.7" x2="841.8" y2="693"/><line x1="871.2" y1="678.7" x2="871.2" y2="693"/><line x1="900.7" y1="678.7" x2="900.7" y2="693"/><line x1="930.2" y1="678.7" x2="930.2" y2="693"/><line x1="959.7" y1="678.7" x2="959.7" y2="693"/><line x1="989.2" y1="678.7" x2="989.2" y2="693"/><line x1="1018.7" y1="678.7" x2="1018.7" y2="693"/><line x1="1048.2" y1="678.7" x2="1048.2" y2="693"/><line x1="1077.6" y1="678.7" x2="1077.6" y2="693"/><line x1="1107.1" y1="678.7" x2="1107.1" y2="693"/><line x1="1136.6" y1="678.7" x2="1136.6" y2="693"/><line x1="1166.1" y1="678.7" x2="1166.1" y2="693"/><line x1="1195.6" y1="678.7" x2="1195.6" y2="693"/><line x1="1225.1" y1="678.7" x2="1225.1" y2="693"/><line x1="1254.6" y1="678.7" x2="1254.6" y2="693"/><line x1="1284.0" y1="678.7" x2="1284.0" y2="693"/><line x1="1313.5" y1="678.7" x2="1313.5" y2="693"/><line x1="1343.0" y1="678.7" x2="1343.0" y2="693"/><line x1="1372.5" y1="678.7" x2="1372.5" y2="693"/><line x1="1402.0" y1="678.7" x2="1402.0" y2="693"/><line x1="1431.5" y1="678.7" x2="1431.5" y2="693"/><line x1="1461.0" y1="678.7" x2="1461.0" y2="693"/><line x1="1490.4" y1="678.7" x2="1490.4" y2="693"/><line x1="1519.9" y1="678.7" x2="1519.9" y2="693"/><line x1="1549.4" y1="678.7" x2="1549.4" y2="693"/></g>
<line x1="115" y1="72.5" x2="171" y2="72.5" stroke="#061c46" stroke-width="3"/>
<line x1="115" y1="102.5" x2="171" y2="102.5" stroke="#be9c62" stroke-width="3"/>
<g><text transform="translate(33.22 34.5) scale(1.0346 1)" font-size="18.0px" letter-spacing="2.3">300</text><text transform="translate(33.12 164.0) scale(1.0376 1)" font-size="18.0px" letter-spacing="2.3">200</text><text transform="translate(33.41 293.9) scale(1.029 1)" font-size="18.0px" letter-spacing="2.3">100</text><text transform="translate(58.09 423.7) scale(1.0857 1)" font-size="18.0px" letter-spacing="2.3">0</text><text transform="translate(24.94 553.2) scale(1.0072 1)" font-size="18.0px" letter-spacing="2.3">-100</text><text transform="translate(24.94 682.9) scale(1.012 1)" font-size="18.0px" letter-spacing="2.3">-200</text><text transform="translate(1564.12 34.5) scale(1.0406 1)" font-size="18.0px" letter-spacing="2.3">300</text><text transform="translate(1564.12 164.0) scale(1.0406 1)" font-size="18.0px" letter-spacing="2.3">200</text><text transform="translate(1564.72 293.9) scale(1.0229 1)" font-size="18.0px" letter-spacing="2.3">100</text><text transform="translate(1563.99 423.7) scale(1.0857 1)" font-size="18.0px" letter-spacing="2.3">0</text><text transform="translate(1563.64 553.2) scale(1.0169 1)" font-size="18.0px" letter-spacing="2.3">-100</text><text transform="translate(1563.62 682.9) scale(1.041 1)" font-size="18.0px" letter-spacing="2.3">-200</text><text transform="translate(69.1 717.9) scale(0.959 1)" font-size="18.4px">1976</text><text transform="translate(128.04 717.9) scale(0.959 1)" font-size="18.4px">1978</text><text transform="translate(186.98 717.9) scale(0.959 1)" font-size="18.4px">1980</text><text transform="translate(245.91 717.9) scale(0.9652 1)" font-size="18.4px">1982</text><text transform="translate(304.87 717.9) scale(0.9529 1)" font-size="18.4px">1984</text><text transform="translate(363.8 717.9) scale(0.959 1)" font-size="18.4px">1986</text><text transform="translate(422.74 717.9) scale(0.959 1)" font-size="18.4px">1988</text><text transform="translate(481.68 717.9) scale(0.959 1)" font-size="18.4px">1990</text><text transform="translate(540.61 717.9) scale(0.9652 1)" font-size="18.4px">1992</text><text transform="translate(599.57 717.9) scale(0.9529 1)" font-size="18.4px">1994</text><text transform="translate(658.5 717.9) scale(0.959 1)" font-size="18.4px">1996</text><text transform="translate(717.44 717.9) scale(0.959 1)" font-size="18.4px">1998</text><text transform="translate(776.45 717.9) scale(0.9671 1)" font-size="18.4px">2000</text><text transform="translate(835.39 717.9) scale(0.9732 1)" font-size="18.4px">2002</text><text transform="translate(894.34 717.9) scale(0.961 1)" font-size="18.4px">2004</text><text transform="translate(953.27 717.9) scale(0.9671 1)" font-size="18.4px">2006</text><text transform="translate(1012.21 717.9) scale(0.9671 1)" font-size="18.4px">2008</text><text transform="translate(1071.15 717.9) scale(0.9671 1)" font-size="18.4px">2010</text><text transform="translate(1130.09 717.9) scale(0.9732 1)" font-size="18.4px">2012</text><text transform="translate(1189.04 717.9) scale(0.961 1)" font-size="18.4px">2014</text><text transform="translate(1247.97 717.9) scale(0.9671 1)" font-size="18.4px">2016</text><text transform="translate(1306.91 717.9) scale(0.9671 1)" font-size="18.4px">2018</text><text transform="translate(1365.85 717.9) scale(0.9671 1)" font-size="18.4px">2020</text><text transform="translate(1424.79 717.9) scale(0.9732 1)" font-size="18.4px">2022</text><text transform="translate(1483.74 717.9) scale(0.961 1)" font-size="18.4px">2024</text><text transform="translate(178.96 77.7) scale(0.9886 1)" font-size="17.5px">USD</text><text transform="translate(218.3 77.7) scale(1.2 1)" font-size="17.5px">:</text><text transform="translate(226.3 77.7) scale(0.9932 1)" font-size="17.5px">Yield</text><text transform="translate(269.59 77.7) scale(1.0829 1)" font-size="17.5px">Curve</text><text transform="translate(323.15 77.7) scale(1.1576 1)" font-size="17.5px">10-2</text><text transform="translate(368.09 77.7) scale(1.1067 1)" font-size="17.5px">(basis</text><text transform="translate(422.75 77.7) scale(1.2495 1)" font-size="17.5px">points)</text><text transform="translate(179.43 106.1) scale(0.9324 1)" font-size="17.5px">EUR</text><text transform="translate(215.1 106.1) scale(1.2 1)" font-size="17.5px">:</text><text transform="translate(222.7 106.1) scale(1.0014 1)" font-size="17.5px">Yield</text><text transform="translate(266.3 106.1) scale(1.0718 1)" font-size="17.5px">Curve</text><text transform="translate(319.72 106.1) scale(1.1848 1)" font-size="17.5px">10-2</text><text transform="translate(365.5 106.1) scale(1.0956 1)" font-size="17.5px">(basis</text><text transform="translate(419.76 106.1) scale(1.2376 1)" font-size="17.5px">points)</text><text transform="translate(50.48 748.7) scale(0.9643 1)" font-size="12.7px">Source:</text><text transform="translate(95.9 748.7) scale(0.9992 1)" font-size="12.7px">Bloomberg,</text><text transform="translate(165.04 748.7) scale(1.0585 1)" font-size="12.7px">Atlantic</text><text transform="translate(211.29 748.7) scale(1.0122 1)" font-size="12.7px">Derivatives</text></g>
</svg>
</body></html>
